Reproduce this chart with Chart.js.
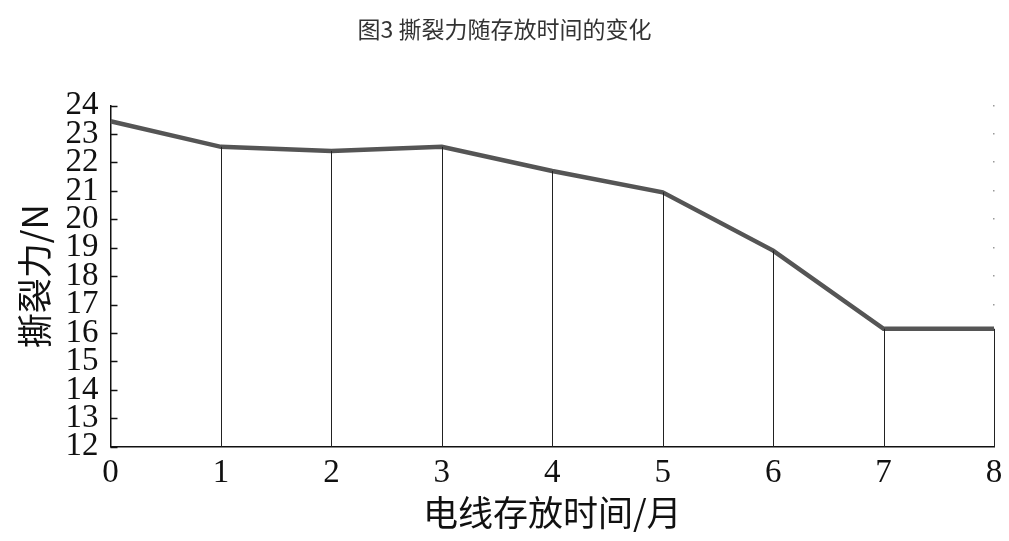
<!DOCTYPE html>
<html>
<head>
<meta charset="utf-8">
<script src="https://cdn.jsdelivr.net/npm/chart.js@4/dist/chart.umd.min.js"></script>
<style>
  body { margin: 0; background: #fff; }
  #wrap { width: 1009px; height: 541px; }
</style>
</head>
<body>
<div id="wrap"><canvas id="tearChart" width="1009" height="541"></canvas></div>
<script>
// data
const months = [0, 1, 2, 3, 4, 5, 6, 7, 8];
const tearForce = [23.45, 22.55, 22.4, 22.55, 21.7, 20.95, 18.9, 16.15, 16.15];
const yTicks = [12, 13, 14, 15, 16, 17, 18, 19, 20, 21, 22, 23, 24];

// vertical drop lines, inward y ticks and the dotted right edge
const extras = {
  id: 'extras',
  afterDatasetsDraw(chart) {
    const ctx = chart.ctx;
    const xs = chart.scales.x, ys = chart.scales.y;
    const bottom = ys.getPixelForValue(12);
    ctx.save();
    ctx.strokeStyle = '#222';
    ctx.lineWidth = 1;
    months.forEach((m, i) => {
      if (m === 0) return;
      const px = Math.round(xs.getPixelForValue(m)) + 0.5;
      ctx.beginPath();
      ctx.moveTo(px, ys.getPixelForValue(tearForce[i]));
      ctx.lineTo(px, bottom);
      ctx.stroke();
    });
    // inward ticks on y axis
    ctx.lineWidth = 1.5;
    ctx.strokeStyle = '#111';
    const x0 = xs.getPixelForValue(0);
    yTicks.forEach(v => {
      const py = Math.round(ys.getPixelForValue(v)) + 0.5;
      ctx.beginPath();
      ctx.moveTo(x0, py);
      ctx.lineTo(x0 + 7, py);
      ctx.stroke();
    });
    // dots at x=8 above the line
    ctx.fillStyle = '#999';
    const xr = xs.getPixelForValue(8);
    const last = tearForce[tearForce.length - 1];
    yTicks.forEach(v => {
      if (v <= last) return;
      ctx.fillRect(Math.round(xr) - 1, Math.round(ys.getPixelForValue(v)) - 1, 1.5, 1.5);
    });
    ctx.restore();
  }
};

new Chart(document.getElementById('tearChart'), {
  type: 'line',
  data: {
    datasets: [{
      label: '撕裂力',
      data: months.map((m, i) => ({ x: m, y: tearForce[i] })),
      borderColor: '#555',
      borderWidth: 4.5,
      pointRadius: 0,
      tension: 0,
      fill: false
    }]
  },
  options: {
    responsive: false,
    animation: false,
    layout: { padding: { left: 15, right: 15, top: 0, bottom: 15 } },
    plugins: {
      legend: { display: false },
      tooltip: { enabled: false },
      title: {
        display: true,
        text: '图3 撕裂力随存放时间的变化',
        color: '#333',
        font: { family: "'Noto Sans CJK SC'", size: 23, weight: 'normal' },
        padding: { top: 15, bottom: 63 }
      }
    },
    scales: {
      x: {
        type: 'linear',
        min: 0, max: 8,
        afterFit(scale) { scale.paddingRight = 0; },
        grid: { display: false, drawTicks: false },
        border: { display: true, color: '#111', width: 1.5 },
        ticks: {
          stepSize: 1,
          color: '#111',
          padding: 10,
          font: { family: "'Liberation Serif'", size: 33, lineHeight: 1 }
        },
        title: {
          display: true,
          text: '电线存放时间/月',
          color: '#111',
          padding: { top: 0, bottom: 0 },
          font: { family: "'Noto Sans CJK SC'", size: 35, weight: 'normal', lineHeight: 0.75 }
        }
      },
      y: {
        min: 12, max: 24,
        afterBuildTicks(axis) { axis.ticks = yTicks.map(v => ({ value: v })); },
        grid: { display: false, drawTicks: false },
        border: { display: true, color: '#111', width: 1.5 },
        ticks: {
          autoSkip: false,
          color: '#111',
          padding: 12,
          font: { family: "'Liberation Serif'", size: 33, lineHeight: 1 }
        },
        title: {
          display: true,
          text: '撕裂力/N',
          color: '#111',
          padding: { top: 0, bottom: 0 },
          font: { family: "'Noto Sans CJK SC'", size: 35, weight: 'normal', lineHeight: 1.1 }
        }
      }
    }
  },
  plugins: [extras]
});
</script>
</body>
</html>
